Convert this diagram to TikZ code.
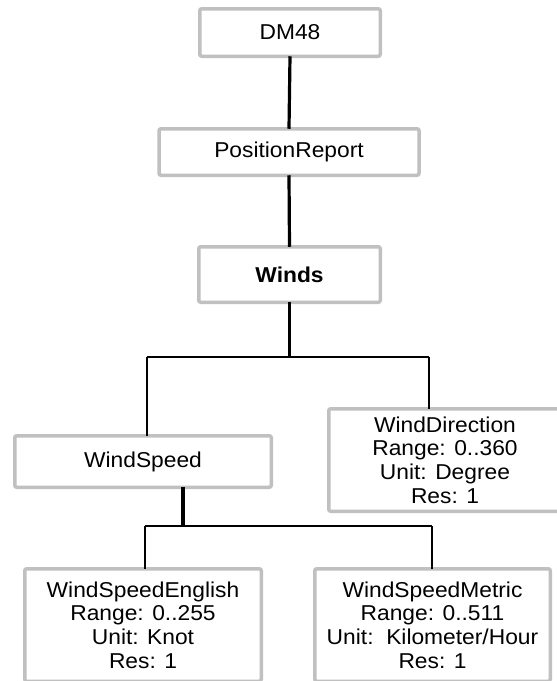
\documentclass[tikz,border=0pt]{standalone}
\usepackage{fontspec}
\setmainfont[FakeStretch=1.06]{Liberation Sans}
\begin{document}
\begin{tikzpicture}[x=1pt,y=-1pt,
  box/.style={draw=boxgray,line width=3.5pt,rounded corners=2pt,fill=white,
    outer sep=0pt,inner sep=0pt,align=center,
    font=\fontsize{21.5}{23.6}\selectfont},
  trunk/.style={line width=3.2pt},
  wire/.style={line width=2.2pt}]
\definecolor{boxgray}{RGB}{192,192,192}
\useasboundingbox (0,0) rectangle (557,681);
\clip (0,0) rectangle (557,681);

% tree nodes
\node[box,minimum width=180.5pt,minimum height=47.5pt] (dm) at (290,32.5) {DM48};
\node[box,minimum width=260pt,minimum height=46.5pt] (pr) at (289,152) {PositionReport};
\node[box,minimum width=181.5pt,minimum height=55.5pt] (winds) at (289.5,274.5) {\bfseries Winds};
\node[box,minimum width=256.5pt,minimum height=51.5pt] (ws) at (143,461.5) {WindSpeed};
\node[box,minimum width=232.5pt,minimum height=102.5pt] (wd) at (445,460)
  {WindDirection\\Range: 0..360\\Unit: Degree\\Res: 1};
\node[box,minimum width=236.5pt,minimum height=112.5pt] (wse) at (143,625)
  {WindSpeedEnglish\\Range: 0..255\\Unit: Knot\\Res: 1};
\node[box,minimum width=235.5pt,minimum height=112.5pt] (wsm) at (432.5,625)
  {WindSpeedMetric\\Range: 0..511\\Unit:~~Kilometer/Hour\\Res: 1};

% bus junctions
\coordinate (b1) at (289.5,357);
\coordinate (b1l) at (147,357);
\coordinate (b1r) at (429,357);
\coordinate (b2) at (183,526);
\coordinate (b2l) at (145,526);
\coordinate (b2r) at (432,526);

% connectors
\draw[trunk] (dm.south) -- (pr.north);
\draw[trunk] (pr.south) -- (winds.north);
\draw[trunk] (winds.south) -- (b1);
\draw[wire] (b1l) -- (b1r);
\draw[wire] (b1l) -- (b1l |- ws.north);
\draw[wire] (b1r) -- (b1r |- wd.north);
\draw[trunk] (b2 |- ws.south) -- (b2);
\draw[wire] (b2l) -- (b2r);
\draw[wire] (b2l) -- (b2l |- wse.north);
\draw[wire] (b2r) -- (b2r |- wsm.north);
\end{tikzpicture}
\end{document}
